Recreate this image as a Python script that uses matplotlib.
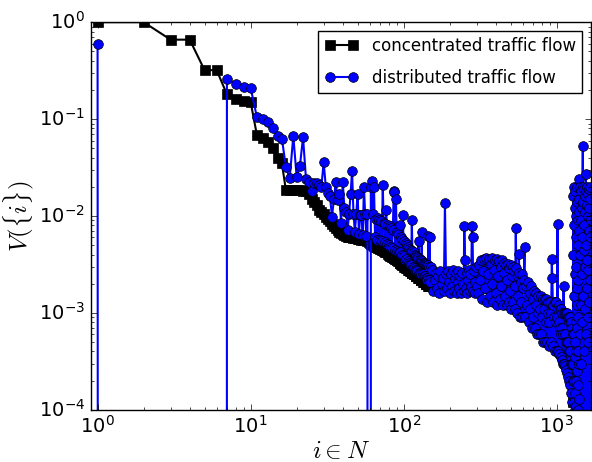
import numpy as np
import matplotlib
matplotlib.use('Agg')
import matplotlib.pyplot as plt

# V({i}) for the first 150 ranked nodes, concentrated traffic flow
conc_head = [1.0, 1.0, 0.66, 0.66, 0.32, 0.32, 0.18, 0.16, 0.155, 0.15,
             0.068, 0.064, 0.058, 0.05, 0.04, 0.035, 0.0185, 0.0185, 0.0185, 0.0185,
             0.0185, 0.0183, 0.018, 0.017, 0.015, 0.014, 0.013, 0.0115, 0.011, 0.0105,
             0.0098, 0.0092, 0.0088, 0.0083, 0.0079, 0.0075, 0.0072, 0.0069, 0.0067, 0.0065,
             0.0063, 0.0062, 0.006, 0.006, 0.006, 0.006, 0.0059, 0.0059, 0.0059, 0.0058,
             0.0058, 0.0058, 0.0057, 0.0057, 0.0057, 0.0056, 0.0056, 0.0055, 0.0054, 0.0053,
             0.0052, 0.0051, 0.005, 0.0049, 0.0049, 0.0048, 0.0048, 0.0047, 0.0047, 0.0046,
             0.0046, 0.0045, 0.0045, 0.0044, 0.0044, 0.0043, 0.0042, 0.0042, 0.0041, 0.004,
             0.004, 0.0039, 0.0039, 0.0038, 0.0038, 0.0037, 0.0037, 0.0036, 0.0036, 0.0035,
             0.0035, 0.0034, 0.0034, 0.0033, 0.0033, 0.0032, 0.0032, 0.0031, 0.0031, 0.0031,
             0.003, 0.003, 0.003, 0.0029, 0.0029, 0.0029, 0.0028, 0.0028, 0.0028, 0.0027,
             0.0027, 0.0027, 0.0026, 0.0026, 0.0026, 0.0025, 0.0025, 0.0025, 0.0025, 0.0024,
             0.0024, 0.0024, 0.0024, 0.0023, 0.0023, 0.0023, 0.0023, 0.0023, 0.0022, 0.0022,
             0.0022, 0.0022, 0.0022, 0.0021, 0.0021, 0.0021, 0.0021, 0.0021, 0.002, 0.002,
             0.002, 0.002, 0.002, 0.002, 0.0019, 0.0019, 0.0019, 0.0019, 0.0019, 0.0019]

# tail of the concentrated series (nodes above 150), mostly hidden under the blue
conc_tail_idx = [152, 160, 170, 180, 190, 200, 215, 230, 245, 260, 275, 290, 310, 330, 350,
                 370, 390, 410, 430, 450, 470, 490, 510, 530, 550, 570, 590, 610, 630, 660,
                 700, 750, 800, 850, 900, 950, 1000, 1050, 1100, 1150, 1200, 1230, 1250, 1262,
                 1270, 1276, 1282, 1300, 1320, 1340, 1360, 1372, 1380, 1400, 1420, 1440, 1460,
                 1480, 1500, 1520, 1540, 1560, 1580, 1600, 1620, 1640, 1660]
conc_tail_val = [0.0019, 0.0021, 0.0018, 0.002, 0.0019, 0.0021, 0.0018, 0.002, 0.0019, 0.0021,
                 0.0018, 0.002, 0.0019, 0.0021, 0.0018, 0.002, 0.0019, 0.0021, 0.002, 0.0019,
                 0.002, 0.0019, 0.0018, 0.0017, 0.0015, 0.0013, 0.0012, 0.0011, 0.0013, 0.0013,
                 0.0013, 0.0013, 0.0013, 0.0013, 0.0013, 0.0012, 0.0011, 0.001, 0.0009, 0.0008,
                 0.0008, 0.0007, 0.0005, 0.0003, 0.0002, 0.00012, 0.0008, 0.0003, 0.0008, 0.0002,
                 0.0008, 0, 0.0008, 0, 0.0008, 0.0002, 0.0008, 0, 0.0008, 0.0004,
                 0.0008, 0, 0.0008, 0.0003, 0.0008, 0, 0.0008]

# distributed traffic flow, first 150 nodes (zeros drop off the log axis)
dist_head = [0.6, 0, 0, 0, 0, 0, 0.26, 0.23, 0.215, 0.21,
             0.104, 0.101, 0.093, 0.08, 0.067, 0.063, 0.032, 0.0245, 0.067, 0.025,
             0.033, 0.065, 0.024, 0.0225, 0.018, 0.022, 0.0218, 0.021, 0.02, 0.036,
             0.0198, 0.0173, 0.016, 0.0098, 0.015, 0.0225, 0.0145, 0.017, 0.0084, 0.0225,
             0.012, 0.011, 0.0072, 0.0105, 0.017, 0.029, 0.0105, 0.0068, 0.0105, 0.017,
             0.0065, 0.0102, 0.0102, 0.0064, 0.02, 0.0105, 0.0062, 0.0106, 0, 0,
             0.02, 0.023, 0.0105, 0.0198, 0.006, 0.0092, 0.0056, 0.0095, 0.009, 0.0056,
             0.0088, 0.0055, 0.021, 0.0085, 0.0054, 0.0082, 0.0115, 0.0052, 0.008, 0.005,
             0.0078, 0.0048, 0.0075, 0.0047, 0.0072, 0.018, 0.0177, 0.0045, 0.015, 0.0068,
             0.0044, 0.0065, 0.0043, 0.008, 0.0042, 0.006, 0.004, 0.0058, 0.0102, 0.0039,
             0.0055, 0.0035, 0.0053, 0.0036, 0.005, 0.0034, 0.0048, 0.0033, 0.0046, 0.0032,
             0.0045, 0.0031, 0.0091, 0.0044, 0.003, 0.0042, 0.0029, 0.004, 0.0028, 0.0039,
             0.0028, 0.0038, 0.0027, 0.0037, 0.0055, 0.0026, 0.0036, 0.0026, 0.0035, 0.0025,
             0.0069, 0.0034, 0.0025, 0.0033, 0.0024, 0.0033, 0.0024, 0.0032, 0.0023, 0.0032,
             0.0023, 0.0031, 0.0022, 0.0031, 0.0062, 0.0022, 0.003, 0.006, 0.0021, 0.003]

# distributed flow, nodes 153..300 every 3rd node
dist_seg_a = [0.0028, 0.0017, 0.0022, 0.0026, 0.0018, 0.0024, 0.0016, 0.0027, 0.002, 0.0023,
              0.0017, 0.0137, 0.0025, 0.0018, 0.0027, 0.0021, 0.0016, 0.0025, 0.0019, 0.0028,
              0.0017, 0.0023, 0.0026, 0.0016, 0.0021, 0.0027, 0.0018, 0.0024, 0.0016, 0.0026,
              0.002, 0.0017, 0.0078, 0.0035, 0.0018, 0.0026, 0.0016, 0.0022, 0.0028, 0.0017,
              0.0025, 0.0019, 0.0079, 0.006, 0.0017, 0.0027, 0.0021, 0.0016, 0.003, 0.0019]
# nodes 305..600 every 5th node
dist_seg_b = [0.0016, 0.0031, 0.0022, 0.0035, 0.0014, 0.0027, 0.0036, 0.0018, 0.0037, 0.0013,
              0.0025, 0.0036, 0.0015, 0.0032, 0.002, 0.0037, 0.0013, 0.0028, 0.0035, 0.0016,
              0.0036, 0.0012, 0.0024, 0.0034, 0.0014, 0.003, 0.0019, 0.0035, 0.0012, 0.0026,
              0.0033, 0.0015, 0.0031, 0.0012, 0.0022, 0.0032, 0.0013, 0.0029, 0.0017, 0.0031,
              0.0011, 0.0024, 0.003, 0.0013, 0.0027, 0.0011, 0.0019, 0.0075, 0.0029, 0.001,
              0.0024, 0.0015, 0.0041, 0.0026, 0.0009, 0.0021, 0.0013, 0.0025, 0.0009, 0.0018]
# nodes 608..1000 every 8th node
dist_seg_c = [0.0022, 0.0048, 0.0009, 0.0019, 0.0012, 0.0021, 0.0008, 0.0016, 0.0011, 0.0019,
              0.0007, 0.0014, 0.0009, 0.0017, 0.0007, 0.0012, 0.0016, 0.0006, 0.001, 0.0015,
              0.0006, 0.0011, 0.0015, 0.0006, 0.0009, 0.0014, 0.0005, 0.0011, 0.0014, 0.0005,
              0.0008, 0.0014, 0.0005, 0.001, 0.0013, 0.00045, 0.0008, 0.0013, 0.0005, 0.001,
              0.0036, 0.0023, 0.0012, 0.00045, 0.0009, 0.0013, 0.0004, 0.0008, 0.0013, 0.0004]
# nodes 1006..1276 every 6th node
dist_seg_d = [0.0009, 0.0082, 0.0011, 0.0004, 0.0008, 0.0012, 0.00038, 0.0007, 0.0011, 0.00035,
              0.0006, 0.0011, 0.00033, 0.0007, 0.001, 0.0003, 0.0006, 0.0019, 0.001, 0.0003,
              0.0006, 0.001, 0.00028, 0.0005, 0.001, 0.00026, 0.0005, 0.001, 0.00024, 0.0005,
              0.0009, 0.00022, 0.0004, 0.0009, 0.0002, 0.0004, 0.0009, 0.00018, 0.0003, 0.0008,
              0.00015, 0.0003, 0.0007, 0.00012, 0.0002, 0.0006]
# nodes 1280..1400 every 3rd node
dist_seg_e = [0.016, 0.0003, 0.004, 0.00012, 0.02, 0.0006, 0.0015, 0.0002, 0.008, 0.00035,
              0.012, 0.0001, 0.0025, 0.0005, 0.018, 0.00015, 0.006, 0.0008, 0.0002, 0.01,
              0.0004, 0.003, 0.00011, 0.014, 0.0007, 0.0018, 0.00025, 0.02, 0.0012, 0.0001,
              0.005, 0.0004, 0.009, 0.00018, 0.0022, 0.0009, 0.024, 0.0003, 0.007, 0.00013, 0.011]
# nodes 1404..1668 every 4th node
dist_seg_f = [0, 0.015, 0.0006, 0, 0.004, 0.02, 0, 0.0012, 0.009, 0,
              0.0003, 0.018, 0.0025, 0, 0.012, 0.0008, 0, 0.006, 0.02, 0.053,
              0, 0.0015, 0.014, 0, 0.0045, 0.0004, 0.019, 0, 0.008, 0.0011,
              0, 0.016, 0.003, 0, 0.011, 0.0006, 0.027, 0, 0.005, 0.018,
              0, 0.0018, 0.013, 0, 0.0035, 0.02, 0, 0.0009, 0.01, 0,
              0.0005, 0.017, 0.0028, 0, 0.012, 0.0013, 0, 0.007, 0.019, 0,
              0.0022, 0.015, 0, 0.006, 0.02, 0, 0.009]

conc_x = np.concatenate([np.arange(1, len(conc_head) + 1), conc_tail_idx])
conc_y = np.concatenate([conc_head, conc_tail_val])

dist_x = np.concatenate([np.arange(1, len(dist_head) + 1),
                         153 + 3 * np.arange(len(dist_seg_a)),
                         305 + 5 * np.arange(len(dist_seg_b)),
                         608 + 8 * np.arange(len(dist_seg_c)),
                         1006 + 6 * np.arange(len(dist_seg_d)),
                         1280 + 3 * np.arange(len(dist_seg_e)),
                         1404 + 4 * np.arange(len(dist_seg_f))])
dist_y = np.concatenate([dist_head, dist_seg_a, dist_seg_b, dist_seg_c,
                         dist_seg_d, dist_seg_e, dist_seg_f])

plt.style.use('classic')
plt.rcParams['font.family'] = ['DejaVu Sans']

fig = plt.figure(figsize=(5.92, 4.62), dpi=100)
ax = fig.add_axes([0.153, 0.113, 0.845, 0.839])

ax.plot(conc_x, conc_y, 'k-s', ms=6.5, lw=1.5, mec='k', mew=0.5,
        label='concentrated traffic flow')
ax.plot(dist_x, dist_y, 'b-o', ms=7, lw=1.5, mec='k', mew=0.5,
        label='distributed traffic flow')

ax.set_xscale('log')
ax.set_yscale('log')
ax.set_xlim(0.9, 1670)
ax.set_ylim(1e-4, 1)

ax.set_xlabel(r'$i \in N$', fontsize=18, labelpad=1)
ax.set_ylabel(r'$V(\{i\})$', fontsize=18, labelpad=2)
ax.tick_params(labelsize=14)

ax.legend(loc='upper right', numpoints=2, fontsize=12, labelspacing=0.8)

fig.savefig('out.png', dpi=100, facecolor='white')
